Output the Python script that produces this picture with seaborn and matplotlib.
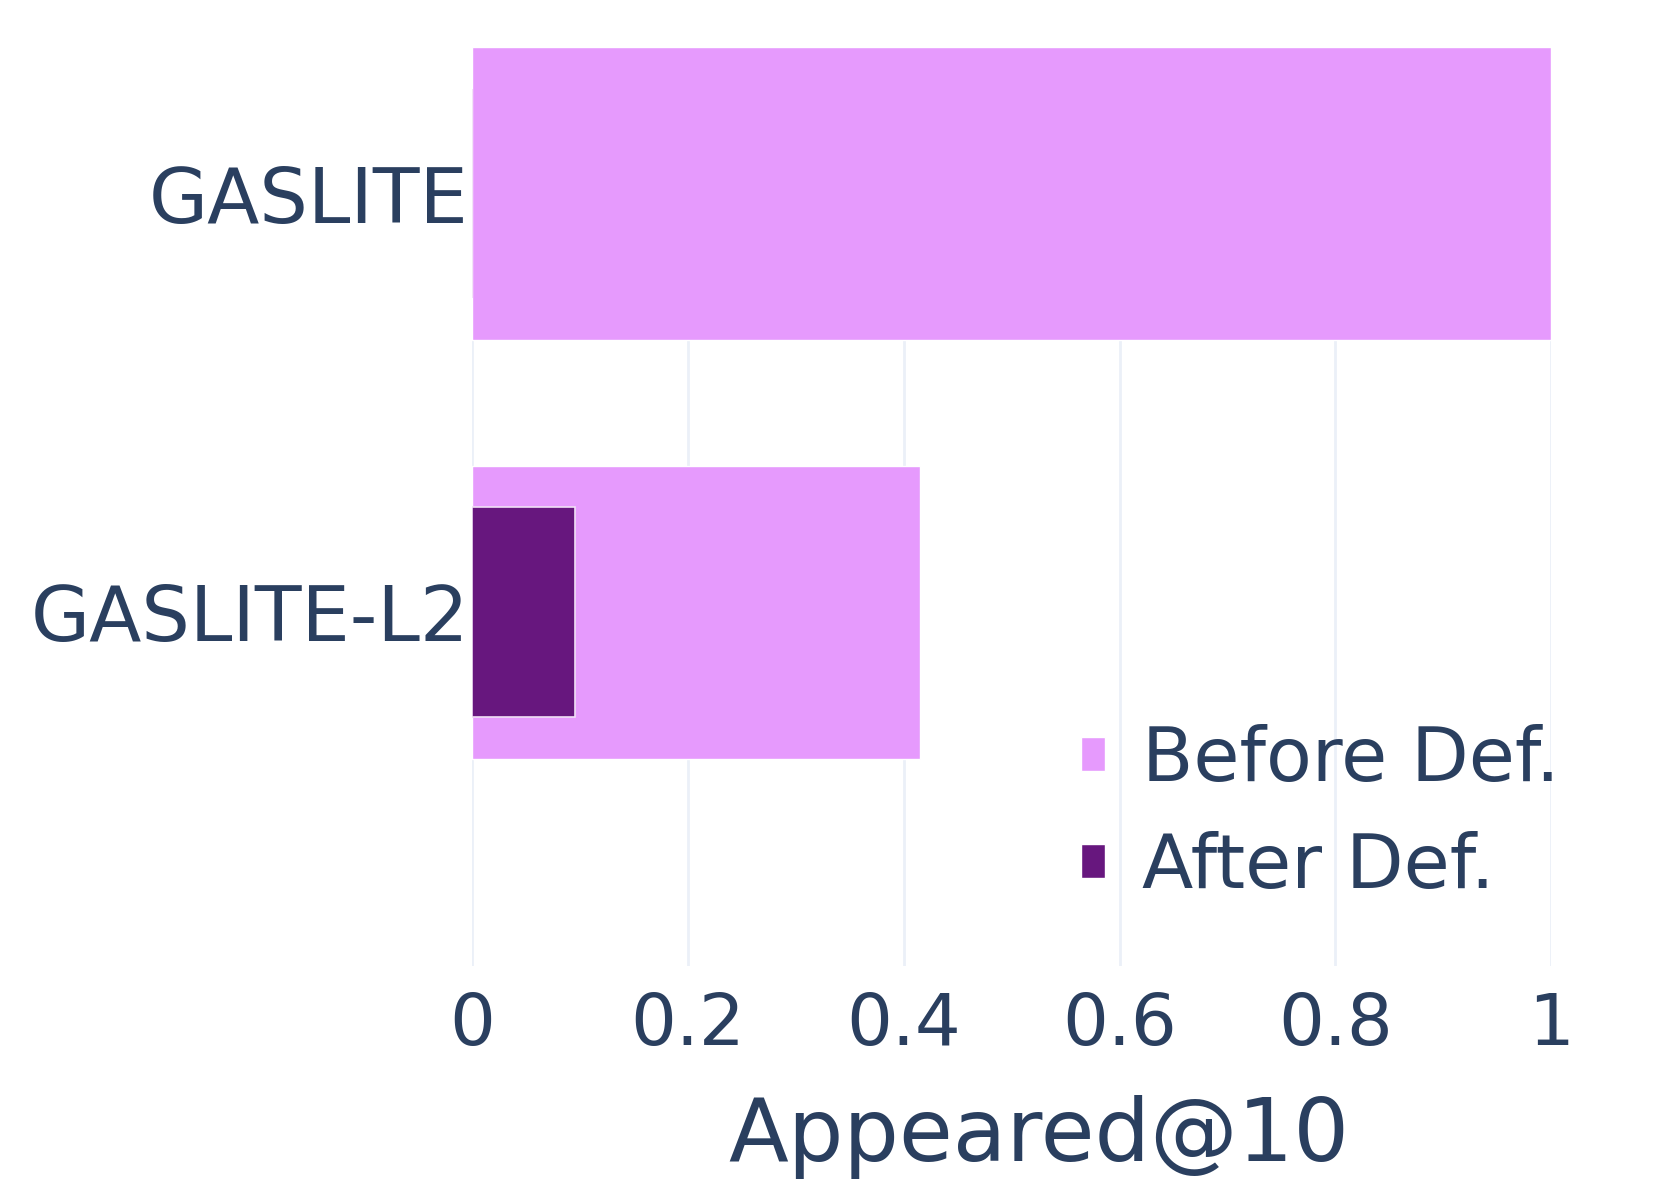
import matplotlib
matplotlib.use("Agg")
import matplotlib.pyplot as plt
import seaborn as sns
import pandas as pd
from matplotlib.patches import Patch

methods = ["GASLITE", "GASLITE-L2"]
before_def = [1.0, 0.415]
after_def = [0.0, 0.096]
x_ticks = [0, 0.2, 0.4, 0.6, 0.8, 1]
x_tick_labels = ["0", "0.2", "0.4", "0.6", "0.8", "1"]

text_color = "#2a3f5f"
grid_color = "#EBF0F8"
before_color = "#E69AFD"
after_color = "#67177E"

sns.set_theme(style="white")
plt.rcParams["font.family"] = ["DejaVu Sans"]

df = pd.DataFrame({"method": methods, "before": before_def, "after": after_def})

fig = plt.figure(figsize=(16.61, 11.87), dpi=100)
ax = fig.add_axes([0.284, 0.186, 0.65, 0.774])

sns.barplot(data=df, y="method", x="before", order=methods, orient="h",
            color=before_color, width=0.7, saturation=1, ax=ax,
            edgecolor="white", linewidth=1, zorder=2)
sns.barplot(data=df, y="method", x="after", order=methods, orient="h",
            color=after_color, width=0.5, saturation=1, ax=ax,
            edgecolor="#f0e0f5", linewidth=1.2, zorder=3)

ax.set_xlim(0, 1)
ax.set_ylim(1.846, -0.349)
ax.set_xticks(x_ticks)
ax.set_xticklabels(x_tick_labels)
ax.grid(axis="x", color=grid_color, linewidth=2, zorder=0)
ax.grid(axis="y", visible=False)
ax.set_axisbelow(True)
for s in ax.spines.values():
    s.set_visible(False)

ax.tick_params(axis="x", length=0, pad=18, labelsize=52, labelcolor=text_color)
ax.tick_params(axis="y", length=0, pad=2, labelsize=55, labelcolor=text_color)
ax.set_ylabel("")
ax.set_xlabel("Appeared@10", fontsize=63, color=text_color)
ax.xaxis.set_label_coords(0.525, -0.14)

handles = [Patch(facecolor=before_color, label="Before Def."),
           Patch(facecolor=after_color, label="After Def.")]
leg = ax.legend(handles=handles, loc="lower right", bbox_to_anchor=(1.036, 0.035),
                fontsize=54, frameon=False, handlelength=0.32, handleheight=0.32,
                handletextpad=0.5, labelspacing=0.45, borderaxespad=0)
for t in leg.get_texts():
    t.set_color(text_color)

fig.savefig("out.png", dpi=100, facecolor="white")
